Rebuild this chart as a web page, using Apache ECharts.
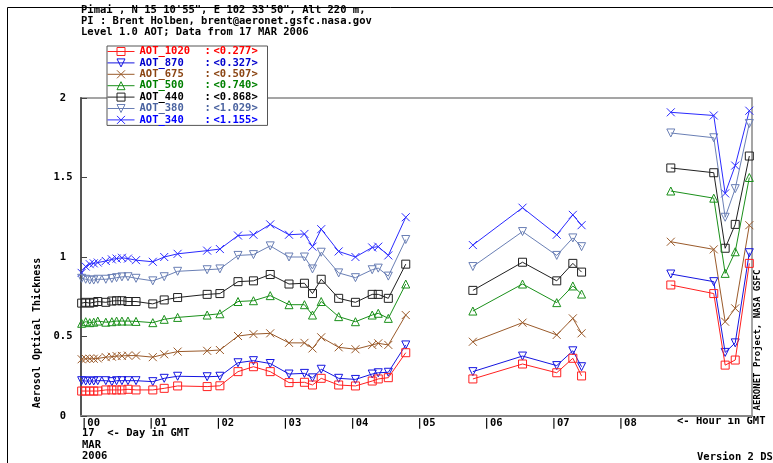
<!DOCTYPE html>
<html>
<head>
<meta charset="utf-8">
<script src="https://cdn.jsdelivr.net/npm/echarts@6/dist/echarts.min.js"></script>
<style>html,body{margin:0;padding:0;background:#fff}#main{width:773px;height:463px}</style>
</head>
<body>
<div id="main"></div>
<script>
// hours (GMT) of each observation, 17 MAR 2006
var hours = [0.01, 0.07, 0.13, 0.19, 0.25, 0.37, 0.46, 0.53, 0.61, 0.70, 0.82, 1.07, 1.24, 1.44, 1.88, 2.07, 2.34, 2.57, 2.82, 3.10, 3.33, 3.45, 3.58, 3.84, 4.09, 4.34, 4.43, 4.58, 4.84, 5.84, 6.58, 7.09, 7.33, 7.46, 8.79, 9.43, 9.60, 9.75, 9.96];

var aot1020 = [0.157, 0.157, 0.157, 0.157, 0.157, 0.164, 0.164, 0.164, 0.164, 0.168, 0.164, 0.164, 0.174, 0.189, 0.185, 0.19, 0.279, 0.31, 0.279, 0.21, 0.212, 0.195, 0.237, 0.195, 0.189, 0.22, 0.233, 0.241, 0.398, 0.233, 0.327, 0.272, 0.363, 0.252, 0.824, 0.77, 0.32, 0.352, 0.96];
var aot870 = [0.222, 0.22, 0.22, 0.22, 0.222, 0.222, 0.216, 0.222, 0.222, 0.222, 0.222, 0.216, 0.237, 0.25, 0.247, 0.25, 0.335, 0.348, 0.33, 0.264, 0.268, 0.24, 0.294, 0.237, 0.23, 0.264, 0.272, 0.275, 0.447, 0.279, 0.377, 0.317, 0.41, 0.31, 0.893, 0.845, 0.40, 0.46, 1.027];
var aot675 = [0.357, 0.36, 0.36, 0.36, 0.362, 0.37, 0.373, 0.377, 0.378, 0.38, 0.38, 0.37, 0.388, 0.405, 0.41, 0.415, 0.503, 0.515, 0.52, 0.46, 0.46, 0.425, 0.495, 0.432, 0.42, 0.447, 0.457, 0.447, 0.635, 0.467, 0.587, 0.51, 0.614, 0.52, 1.096, 1.048, 0.593, 0.677, 1.20];
var aot500 = [0.583, 0.593, 0.587, 0.59, 0.597, 0.59, 0.593, 0.597, 0.597, 0.597, 0.595, 0.587, 0.608, 0.62, 0.635, 0.643, 0.72, 0.725, 0.757, 0.70, 0.70, 0.635, 0.72, 0.625, 0.593, 0.635, 0.646, 0.614, 0.83, 0.66, 0.83, 0.713, 0.818, 0.767, 1.415, 1.37, 0.897, 1.033, 1.50];
var aot440 = [0.71, 0.715, 0.71, 0.715, 0.72, 0.715, 0.723, 0.725, 0.725, 0.72, 0.72, 0.705, 0.73, 0.745, 0.765, 0.77, 0.845, 0.85, 0.89, 0.83, 0.835, 0.77, 0.86, 0.74, 0.715, 0.765, 0.765, 0.74, 0.955, 0.79, 0.967, 0.85, 0.96, 0.905, 1.56, 1.53, 1.055, 1.205, 1.635];
var aot380 = [0.866, 0.86, 0.855, 0.855, 0.86, 0.86, 0.865, 0.87, 0.875, 0.876, 0.866, 0.85, 0.876, 0.91, 0.92, 0.925, 1.01, 1.015, 1.07, 1.00, 1.00, 0.925, 1.03, 0.90, 0.87, 0.92, 0.93, 0.88, 1.11, 0.94, 1.16, 1.01, 1.12, 1.065, 1.78, 1.75, 1.25, 1.43, 1.84];
var aot340 = [0.90, 0.94, 0.955, 0.96, 0.965, 0.975, 0.985, 0.99, 0.995, 0.99, 0.98, 0.97, 1.00, 1.02, 1.04, 1.05, 1.135, 1.14, 1.205, 1.14, 1.145, 1.065, 1.175, 1.035, 1.00, 1.06, 1.065, 1.01, 1.25, 1.075, 1.31, 1.14, 1.265, 1.20, 1.91, 1.89, 1.40, 1.575, 1.92];

var names = ['AOT_1020', 'AOT_870', 'AOT_675', 'AOT_500', 'AOT_440', 'AOT_380', 'AOT_340'];
var means = ['0.277', '0.327', '0.507', '0.740', '0.868', '1.029', '1.155'];
var values = [aot1020, aot870, aot675, aot500, aot440, aot380, aot340];
var colors = ['#ff2020', '#1515e0', '#9a5a2a', '#1a901a', '#202020', '#6a7fb5', '#2a2aff'];
var textColors = ['#ff0000', '#0000cc', '#8b4513', '#008000', '#000000', '#4a63a0', '#0000ff'];

var X = 'path://M0,0L10,10M10,0L0,10';
var SQ = 'path://M0,0L10,0L10,10L0,10Z';
var DN = 'path://M0,0L10,0L5,10Z';
var UP = 'path://M5,0L10,10L0,10Z';
var symbols = [SQ, DN, X, UP, SQ, DN, X];

var FONT = 'DejaVu Sans Mono';

// break the line where the photometer has no data
function pairs(vals) {
	var out = [];
	for (var i = 0; i < hours.length; i++) {
		if (i > 0 && hours[i] - hours[i - 1] > 0.8) out.push([(hours[i] + hours[i - 1]) / 2, '-']);
		out.push([hours[i], vals[i]]);
	}
	return out;
}

var rich = {};
for (var k = 0; k < names.length; k++) {
	rich['n' + k] = {width: 65, color: textColors[k], fontFamily: FONT, fontWeight: 'bold', fontSize: 10.5, lineHeight: 10};
	rich['c' + k] = {width: 9, color: textColors[k], fontFamily: FONT, fontWeight: 'bold', fontSize: 10.5, lineHeight: 10};
	rich['v' + k] = {width: 50, color: textColors[k], fontFamily: FONT, fontWeight: 'bold', fontSize: 10.5, lineHeight: 10};
}

var series = [];
for (var s = 0; s < names.length; s++) {
	series.push({
		name: names[s],
		type: 'line',
		data: pairs(values[s]),
		connectNulls: false,
		symbol: symbols[s],
		symbolSize: 8,
		lineStyle: {color: colors[s], width: 1},
		itemStyle: {color: 'transparent', borderColor: colors[s], borderWidth: 1},
		z: 10 - s
	});
}

var txt = function (x, y, t) {
	return {type: 'text', left: x, top: y,
		style: {text: t, fill: '#000', font: 'bold 10.5px "' + FONT + '"', textVerticalAlign: 'middle'}};
};

var myChart = echarts.init(document.getElementById('main'));
var option = {
	animation: false,
	backgroundColor: '#fff',
	grid: {left: 81, right: 21, top: 98, bottom: 47, show: true, borderColor: '#888', borderWidth: 1.5},
	legend: {
		orient: 'vertical',
		left: 107,
		top: 46,
		padding: [0, 4, 0, 0],
		itemGap: 0.4,
		itemWidth: 27,
		itemHeight: 10,
		backgroundColor: '#fff',
		borderColor: '#555',
		borderWidth: 1,
		itemStyle: {borderWidth: 1},
		lineStyle: {width: 1},
		data: names,
		formatter: function (name) {
			var i = names.indexOf(name);
			return '{n' + i + '|' + name + '}{c' + i + '|:}{v' + i + '|<' + means[i] + '>}';
		},
		textStyle: {rich: rich, fontFamily: FONT, fontWeight: 'bold', fontSize: 10.5, lineHeight: 10}
	},
	xAxis: {
		type: 'value',
		min: 0,
		max: 10,
		interval: 1,
		axisLine: {lineStyle: {color: '#888', width: 2}},
		axisTick: {show: false},
		splitLine: {show: false},
		axisLabel: {
			align: 'left',
			margin: 2,
			color: '#000',
			fontFamily: FONT,
			fontWeight: 'bold',
			fontSize: 10.5,
			formatter: function (v) {
				return v <= 8 ? '|0' + v : '';
			}
		}
	},
	yAxis: {
		type: 'value',
		min: 0,
		max: 2,
		interval: 0.5,
		axisLine: {show: true, lineStyle: {color: '#555', width: 2}},
		axisTick: {show: true, inside: true, length: 6, lineStyle: {color: '#444'}},
		splitLine: {show: false},
		axisLabel: {align: 'center', margin: 18, color: '#000', fontFamily: FONT, fontWeight: 'bold', fontSize: 10.5}
	},
	graphic: [
		{type: 'rect', left: 5, top: 5, shape: {width: 900, height: 900}, style: {fill: 'none', stroke: '#000', lineWidth: 1}, silent: true, z: -10},
		txt(81, 5, 'Pimai , N 15 10\'55", E 102 33\'50", Alt 220 m,'),
		txt(81, 16, 'PI : Brent Holben, brent@aeronet.gsfc.nasa.gov'),
		txt(81, 27, 'Level 1.0 AOT; Data from 17 MAR 2006'),
		txt(82, 428, '17  <- Day in GMT'),
		txt(82, 440, 'MAR'),
		txt(82, 451, '2006'),
		txt(677, 416, '<- Hour in GMT'),
		txt(697, 452, 'Version 2 DS'),
		{type: 'text', x: 37, y: 333, rotation: Math.PI / 2,
			style: {text: 'Aerosol Optical Thickness', fill: '#000', font: 'bold 10px "' + FONT + '"', textAlign: 'center', textVerticalAlign: 'middle'}},
		{type: 'text', x: 758, y: 340, rotation: Math.PI / 2,
			style: {text: 'AERONET Project, NASA GSFC', fill: '#000', font: 'bold 9px "' + FONT + '"', textAlign: 'center', textVerticalAlign: 'middle'}}
	],
	series: series
};
myChart.setOption(option);
</script>
</body>
</html>
